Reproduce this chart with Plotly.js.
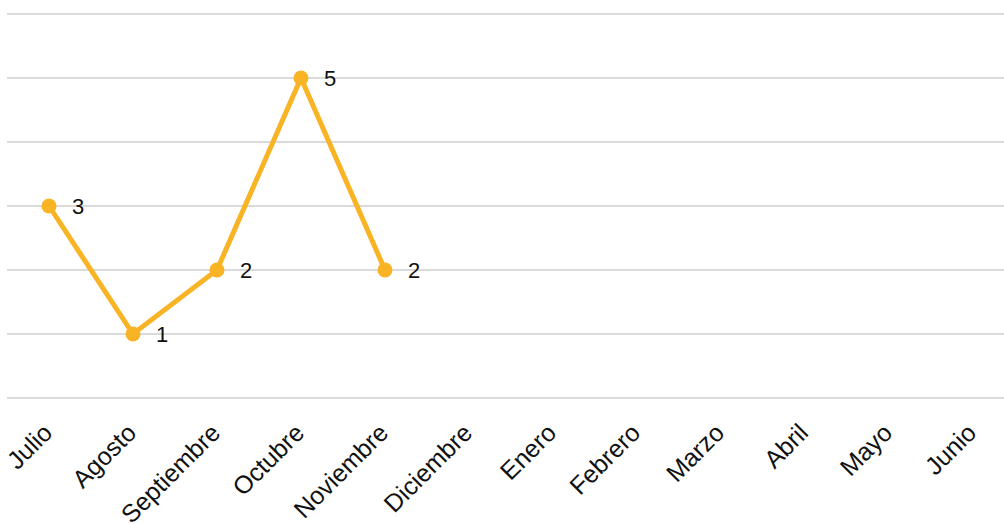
<!DOCTYPE html>
<html>
<head>
<meta charset="utf-8">
<script src="https://cdn.plot.ly/plotly-3.0.1.min.js"></script>
<style>html,body{margin:0;padding:0;background:#fff;}#chart{width:1004px;height:524px;}</style>
</head>
<body>
<div id="chart"></div>
<script>
const months = ["Julio","Agosto","Septiembre","Octubre","Noviembre","Diciembre","Enero","Febrero","Marzo","Abril","Mayo","Junio"];
const values = [3, 1, 2, 5, 2, null, null, null, null, null, null, null];

const trace = {
  x: months,
  y: values,
  type: "scatter",
  mode: "lines+markers",
  line: {color: "#F8B425", width: 5},
  marker: {color: "#F8B425", size: 15},
  connectgaps: false,
  hoverinfo: "x+y"
};

const annotations = [];
values.forEach((v, i) => {
  if (v === null) return;
  annotations.push({
    x: months[i], y: v, xref: "x", yref: "y",
    text: String(v), showarrow: false,
    xanchor: "left", yanchor: "middle",
    xshift: 21, yshift: 0,
    font: {family: "Liberation Sans, Arial, sans-serif", size: 22, color: "#111"}
  });
});

const layout = {
  width: 1004, height: 524,
  margin: {l: 7, r: 0, t: 1, b: 113},
  paper_bgcolor: "#fff", plot_bgcolor: "#fff",
  showlegend: false,
  font: {family: "Liberation Sans, Arial, sans-serif", size: 25, color: "#111"},
  annotations: annotations,
  xaxis: {
    type: "category",
    range: [-0.5, 11.37],
    showgrid: false, zeroline: false, showline: false,
    tickangle: -45,
    ticks: "",
    automargin: false,
    ticklabelstandoff: 1,
    ticklabelshift: -4,
    tickfont: {size: 25, color: "#111"}
  },
  yaxis: {
    range: [-0.203125, 6.203125],
    dtick: 1,
    showgrid: true, gridcolor: "#dadada", gridwidth: 2,
    zeroline: false, showline: false,
    showticklabels: false, ticks: ""
  }
};

Plotly.newPlot("chart", [trace], layout, {displayModeBar: false, staticPlot: true});
</script>
</body>
</html>
